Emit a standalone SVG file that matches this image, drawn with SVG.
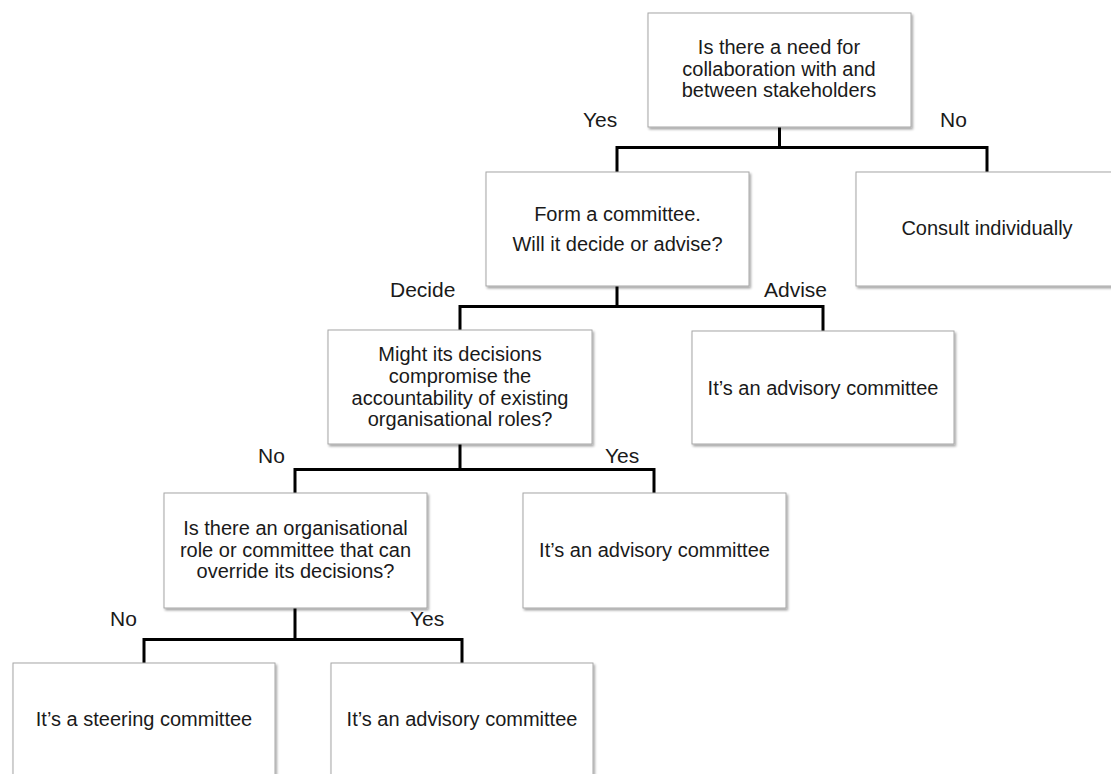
<svg xmlns="http://www.w3.org/2000/svg" width="1111" height="774" viewBox="0 0 1111 774">
  <defs>
    <filter id="shadow" x="-5%" y="-5%" width="115%" height="120%">
      <feDropShadow dx="1.5" dy="2" stdDeviation="1.2" flood-color="#000" flood-opacity="0.35"/>
    </filter>
  </defs>
  <style>
    .box { fill: #ffffff; stroke: #a6a6a6; stroke-width: 1; filter: url(#shadow); }
    .t { font-family: "Liberation Sans", Arial, sans-serif; font-size: 20px; fill: #1a1a1a; text-anchor: middle; }
    .lbl { font-family: "Liberation Sans", Arial, sans-serif; font-size: 21px; fill: #1a1a1a; }
    .conn { fill: none; stroke: #000; stroke-width: 3; stroke-linejoin: miter; stroke-linecap: butt; }
  </style>
  <rect width="1111" height="774" fill="#ffffff"/>

  <g id="connectors">
    <path class="conn" d="M779.5 127 V147.5 M617 172 V147.5 H987 V172"/>
    <path class="conn" d="M617 286 V306.5 M460 330 V306.5 H823 V331"/>
    <path class="conn" d="M460 444 V469.5 M295 493 V469.5 H654 V493"/>
    <path class="conn" d="M295 608 V639.5 M144 663 V639.5 H462 V663"/>
  </g>

  <g id="labels">
    <text class="lbl" x="583" y="127">Yes</text>
    <text class="lbl" x="940" y="127">No</text>
    <text class="lbl" x="390" y="297">Decide</text>
    <text class="lbl" x="764" y="297">Advise</text>
    <text class="lbl" x="258" y="463">No</text>
    <text class="lbl" x="605" y="463">Yes</text>
    <text class="lbl" x="110" y="626">No</text>
    <text class="lbl" x="410" y="626">Yes</text>
  </g>

  <g id="n-collab">
    <rect class="box" x="648" y="13" width="263" height="114"/>
    <text class="t" x="779" y="54">Is there a need for</text>
    <text class="t" x="779" y="76">collaboration with and</text>
    <text class="t" x="779" y="97">between stakeholders</text>
  </g>

  <g id="n-form">
    <rect class="box" x="486" y="172" width="263" height="114"/>
    <text class="t" x="617.5" y="221">Form a committee.</text>
    <text class="t" x="617.5" y="251">Will it decide or advise?</text>
  </g>

  <g id="n-consult">
    <rect class="box" x="856" y="172" width="263" height="114"/>
    <text class="t" x="987" y="235">Consult individually</text>
  </g>

  <g id="n-compromise">
    <rect class="box" x="328" y="330" width="264" height="114"/>
    <text class="t" x="460" y="361">Might its decisions</text>
    <text class="t" x="460" y="383">compromise the</text>
    <text class="t" x="460" y="405">accountability of existing</text>
    <text class="t" x="460" y="426">organisational roles?</text>
  </g>

  <g id="n-advisory1">
    <rect class="box" x="692" y="331" width="262" height="113"/>
    <text class="t" x="823" y="395">It’s an advisory committee</text>
  </g>

  <g id="n-override">
    <rect class="box" x="164" y="493" width="263" height="115"/>
    <text class="t" x="295.5" y="535">Is there an organisational</text>
    <text class="t" x="295.5" y="557">role or committee that can</text>
    <text class="t" x="295.5" y="578">override its decisions?</text>
  </g>

  <g id="n-advisory2">
    <rect class="box" x="523" y="493" width="263" height="115"/>
    <text class="t" x="654.5" y="557">It’s an advisory committee</text>
  </g>

  <g id="n-steering">
    <rect class="box" x="13" y="663" width="262" height="125"/>
    <text class="t" x="144" y="726">It’s a steering committee</text>
  </g>

  <g id="n-advisory3">
    <rect class="box" x="331" y="663" width="262" height="125"/>
    <text class="t" x="462" y="726">It’s an advisory committee</text>
  </g>
</svg>
